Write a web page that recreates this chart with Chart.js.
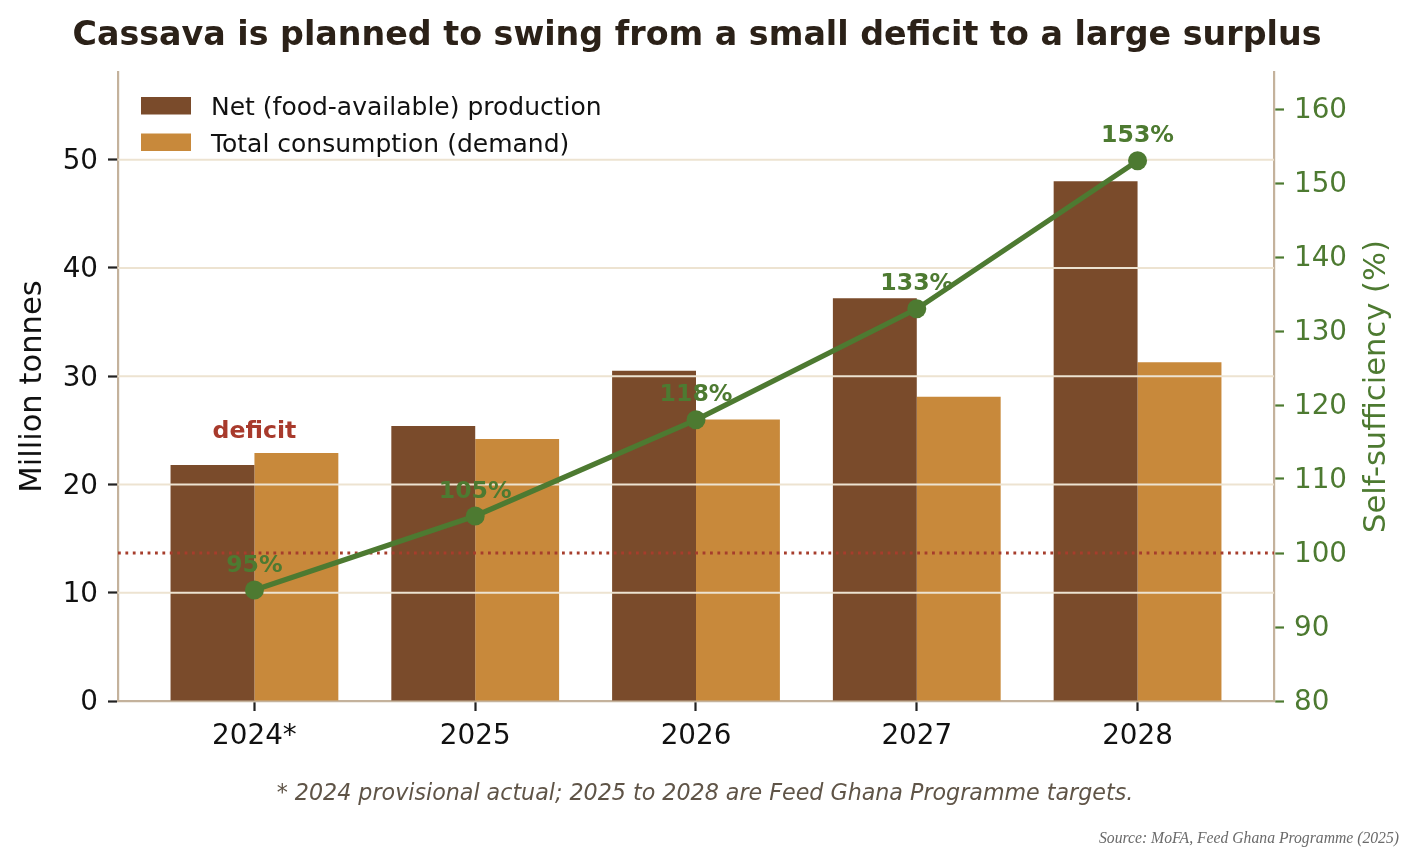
<!DOCTYPE html>
<html><head><meta charset="utf-8">
<script src="https://cdn.jsdelivr.net/npm/chart.js@4.4.1/dist/chart.umd.min.js"></script>
<style>html,body{margin:0;padding:0;background:#fff;} #wrap{width:1412px;height:850px;}</style>
</head><body><div id="wrap"><canvas id="c" width="1412" height="850"></canvas></div>
<script>
const categories = ['2024*', '2025', '2026', '2027', '2028'];
const netProduction = [21.8, 25.4, 30.5, 37.2, 48.0];
const consumption = [22.9, 24.2, 26.0, 28.1, 31.3];
const selfSufficiency = [95, 105, 118, 133, 153];
const leftTicks = [0, 10, 20, 30, 40, 50];
const rightTicks = [80, 90, 100, 110, 120, 130, 140, 150, 160];
const parityValue = 100;
const deficitIndex = 0;
const seriesLabels = ['Net (food-available) production', 'Total consumption (demand)', 'Self-sufficiency'];
const titleText = 'Cassava is planned to swing from a small deficit to a large surplus';
const leftTitle = 'Million tonnes';
const rightTitle = 'Self-sufficiency (%)';
const footnoteText = '* 2024 provisional actual; 2025 to 2028 are Feed Ghana Programme targets.';
const sourceText = 'Source: MoFA, Feed Ghana Programme (2025)';

const FAM = '"DejaVu Sans", sans-serif';
const COL = {brown:'#7a4b2b', orange:'#c8893b', green:'#4d7a31', red:'#a83a2c', dotted:'#a63d2c',
  spine:'#c4b29c', grid:'#ede3d1', title:'#2b2118', note:'#5f5447', src:'#6a6a6a', tick:'#111111'};

const overlay = {
  id: 'overlay',
  beforeDatasetDraw(chart, args) {
    if (args.index !== 0) return;
    const ctx = chart.ctx, a = chart.chartArea;
    const y = chart.scales.y, y2 = chart.scales.y2, x = chart.scales.x;
    ctx.save();
    // gridlines (over bars, under line)
    ctx.strokeStyle = COL.grid; ctx.lineWidth = 2;
    y.ticks.forEach(t => {
      if (t.value === 0) return;
      const py = y.getPixelForValue(t.value);
      ctx.beginPath(); ctx.moveTo(a.left, py); ctx.lineTo(a.right, py); ctx.stroke();
    });
    // parity dotted line
    const pp = y2.getPixelForValue(parityValue);
    ctx.strokeStyle = COL.dotted; ctx.lineWidth = 2.8; ctx.setLineDash([2.8, 4.6]);
    ctx.beginPath(); ctx.moveTo(a.left, pp); ctx.lineTo(a.right, pp); ctx.stroke();
    ctx.setLineDash([]);
    // percentage labels
    ctx.font = 'bold 23.6px ' + FAM; ctx.fillStyle = COL.green; ctx.textAlign = 'center'; ctx.textBaseline = 'alphabetic';
    selfSufficiency.forEach((v, i) => {
      ctx.fillText(v + '%', x.getPixelForValue(i), y2.getPixelForValue(v) - 18.5);
    });
    // deficit label
    ctx.fillStyle = COL.red;
    const top = Math.max(netProduction[deficitIndex], consumption[deficitIndex]);
    ctx.fillText('deficit', x.getPixelForValue(deficitIndex), y.getPixelForValue(top) - 15);
    ctx.restore();
  },
  afterDraw(chart) {
    const ctx = chart.ctx, a = chart.chartArea;
    ctx.save();
    // title
    ctx.fillStyle = COL.title; ctx.font = 'bold 33.3px ' + FAM; ctx.textAlign = 'center'; ctx.textBaseline = 'alphabetic';
    ctx.fillText(titleText, 697, 45);
    // axis titles
    ctx.font = '30.6px ' + FAM; ctx.textBaseline = 'middle';
    ctx.save(); ctx.translate(33, (a.top + a.bottom) / 2); ctx.rotate(-Math.PI / 2);
    ctx.fillStyle = COL.tick; ctx.fillText(leftTitle, 0, 0); ctx.restore();
    ctx.save(); ctx.translate(1377, (a.top + a.bottom) / 2); ctx.rotate(-Math.PI / 2);
    ctx.fillStyle = COL.green; ctx.fillText(rightTitle, 0, 0); ctx.restore();
    // legend
    ctx.font = '25px ' + FAM; ctx.textAlign = 'left'; ctx.textBaseline = 'alphabetic';
    [1, 2].forEach((di, r) => {
      const ds = chart.data.datasets[di];
      const yb = 97 + r * 36.5;
      ctx.fillStyle = ds.backgroundColor; ctx.fillRect(141, yb, 50, 17.5);
      ctx.fillStyle = COL.tick; ctx.fillText(ds.label, 211, yb + 18);
    });
    // footnote
    ctx.font = 'italic 22.2px ' + FAM; ctx.fillStyle = COL.note; ctx.textAlign = 'center';
    ctx.fillText(footnoteText, 705, 800);
    ctx.font = 'italic 15.7px "Liberation Serif", serif'; ctx.fillStyle = COL.src; ctx.textAlign = 'right';
    ctx.fillText(sourceText, 1399, 843);
    ctx.restore();
  }
};

// two-line label with empty first line nudges the number slightly below the tick, as in the original
const nudged = v => ['', String(v)];

const ctx = document.getElementById('c').getContext('2d');
new Chart(ctx, {
  type: 'bar',
  data: {
    datasets: [
      {label: seriesLabels[2], type: 'line', data: categories.map((c, i) => ({x: i, y: selfSufficiency[i]})),
       yAxisID: 'y2', borderColor: COL.green, backgroundColor: COL.green, borderWidth: 5.2,
       pointRadius: 9.5, pointHoverRadius: 9.5, pointBackgroundColor: COL.green, pointBorderWidth: 0,
       tension: 0, order: 1, clip: false},
      {label: seriesLabels[0], data: categories.map((c, i) => ({x: i, y: netProduction[i]})),
       yAxisID: 'y', backgroundColor: COL.brown, borderWidth: 0, order: 2,
       categoryPercentage: 0.76, barPercentage: 1.0},
      {label: seriesLabels[1], data: categories.map((c, i) => ({x: i, y: consumption[i]})),
       yAxisID: 'y', backgroundColor: COL.orange, borderWidth: 0, order: 2,
       categoryPercentage: 0.76, barPercentage: 1.0}
    ]
  },
  options: {
    responsive: false, animation: false,
    layout: {padding: {top: 72, left: 0, right: 0, bottom: 0}},
    plugins: {legend: {display: false}, title: {display: false}, tooltip: {enabled: false}},
    scales: {
      x: {type: 'linear', min: -0.618, max: 4.618, offset: false,
        afterBuildTicks: s => { s.ticks = categories.map((c, i) => ({value: i})); },
        afterFit: s => { s.height = 149; },
        ticks: {callback: v => categories[v], color: COL.tick, font: {family: FAM, size: 27.8}, padding: 9, autoSkip: false, maxRotation: 0},
        grid: {offset: false, drawOnChartArea: false, drawTicks: true, tickLength: 10, tickWidth: 2.2, tickColor: '#222'},
        border: {display: true, color: COL.spine, width: 2.2}},
      y: {type: 'linear', position: 'left', min: 0, max: 58.1,
        afterBuildTicks: s => { s.ticks = leftTicks.map(v => ({value: v})); },
        afterFit: s => { s.width = 118; },
        ticks: {callback: nudged, color: COL.tick, font: {family: FAM, size: 27.8, lineHeight: 0.15}, padding: 10},
        grid: {drawOnChartArea: false, drawTicks: true, tickLength: 10, tickWidth: 2.2, tickColor: '#222'},
        border: {display: true, color: COL.spine, width: 2.2}},
      y2: {type: 'linear', position: 'right', min: 80, max: 165,
        afterBuildTicks: s => { s.ticks = rightTicks.map(v => ({value: v})); },
        afterFit: s => { s.width = 138; },
        ticks: {callback: nudged, color: COL.green, font: {family: FAM, size: 27.8, lineHeight: 0.15}, padding: 10},
        grid: {drawOnChartArea: false, drawTicks: true, tickLength: 10, tickWidth: 2.2, tickColor: COL.green},
        border: {display: true, color: COL.spine, width: 2.2}}
    }
  },
  plugins: [overlay]
});
</script></body></html>
